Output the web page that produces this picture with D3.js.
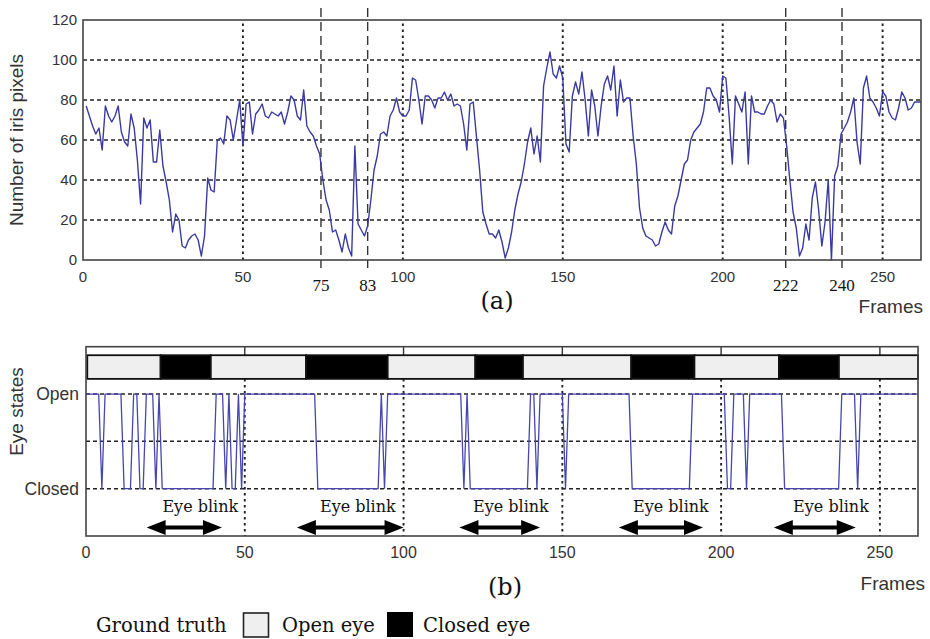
<!DOCTYPE html>
<html><head><meta charset="utf-8">
<script src="https://cdn.jsdelivr.net/npm/d3@7"></script>
<style>html,body{margin:0;padding:0;background:#fff;}svg{display:block;}</style>
</head><body>
<svg id="c" width="930" height="639"></svg>
<script>
// ---------- DATA ----------
// (a) number of iris pixels, frames 1..262
const irisPixels = [
77,72,67,63,66,55,77,72,69,72,
77,64,59,57,73,66,50,28,71,66,
70,49,49,65,47,39,30,14,23,20,
7,6,10,12,13,10,2,12,41,35,
34,60,61,58,72,70,60,70,80,57,
78,79,63,73,75,78,72,71,74,73,
72,74,68,74,82,80,72,70,85,67,
64,62,57,53,40,30,25,14,15,10,
4,13,6,2,57,18,15,12,17,30,
45,52,63,64,62,72,75,81,74,72,
72,75,91,90,80,68,82,82,80,76,
81,81,84,80,83,77,78,77,68,55,
78,79,62,45,24,18,13,13,11,15,
9,1,6,14,25,33,39,48,59,66,
53,62,49,87,96,104,93,91,97,91,
58,54,82,89,83,94,80,62,85,77,
62,77,88,92,85,97,72,90,79,81,
81,62,48,26,16,12,11,10,7,8,
14,19,15,13,27,32,40,48,50,60,
64,66,68,74,86,86,82,80,74,92,
91,72,48,82,78,74,84,48,82,74,
74,73,73,77,80,78,69,73,71,57,
40,24,16,2,6,18,10,31,39,25,
7,19,40,0,42,47,63,66,69,74,
81,59,48,86,92,81,79,76,72,84,
82,74,71,70,76,84,81,75,76,79,
79,79
];
const irisTicksY = [0,20,40,60,80,100,120];
const framesTicks = [0,50,100,150,200,250];
const markerFrames = [74.4, 89, 219.7, 237.3];
const markerLabels = ["75","83","222","240"];

// (b) detected eye state per frame 0..262 (1 = Open, 0 = Closed)
const eyeStateCodes = [
"1111101111","1100011001","1101000000","0000000000","0111010010",
"1111111111","1111111111","1110000000","0000000000","0001011111",
"1111111111","1111111110","1000000000","0000000000","1101111111",
"1011111111","1111111111","1100000000","0000000000","0111111111",
"1100111101","1111111111","0000000000","0000000011","1110111111",
"1111111111","111"
];
const eyeTickValues = [1, 0];
const eyeTickLabels = ["Open","Closed"];
// ground truth segments
const gtFrom  = [0.4, 23.5, 39.3, 69.3, 95, 122.6, 137.6, 171.7, 191.6, 218.2, 237.1];
const gtTo    = [23.5, 39.3, 69.3, 95, 122.6, 137.6, 171.7, 191.6, 218.2, 237.1, 262];
const gtState = ["open","closed","open","closed","open","closed","open","closed","open","closed","open"];
// eye blink annotations
const blinkFrom = [19.1, 66.4, 117.6, 167.8, 216.6];
const blinkTo   = [42.8, 100, 143, 194.3, 242.4];
const blinkTextAt = [36, 85.6, 133.8, 184.2, 234.6];

// ---------- DRAW ----------
const svg = d3.select("#c");
const SANS = "'Liberation Sans', Arial, sans-serif";
const SERIF = "'DejaVu Serif', serif";
const LINE = "#3a3aa2";

// ===== (a) =====
const xA = d3.scaleLinear().domain([0,262]).range([83,921]);
const yA = d3.scaleLinear().domain([0,120]).range([260,20]);
const gA = svg.append("g");

// grid
gA.selectAll(".hg").data(irisTicksY.filter(v=>v>0&&v<120)).enter().append("line")
  .attr("x1",xA(0)).attr("x2",xA(262)).attr("y1",d=>yA(d)).attr("y2",d=>yA(d))
  .attr("stroke","#222").attr("stroke-width",1.5).attr("stroke-dasharray","4,3");
gA.selectAll(".vg").data(framesTicks.filter(v=>v>0)).enter().append("line")
  .attr("x1",d=>xA(d)).attr("x2",d=>xA(d)).attr("y1",yA(0)).attr("y2",yA(120))
  .attr("stroke","#222").attr("stroke-width",1.9).attr("stroke-dasharray","2.5,3.5");

// markers
gA.selectAll(".mk").data(markerFrames).enter().append("line")
  .attr("x1",d=>xA(d)).attr("x2",d=>xA(d)).attr("y1",8).attr("y2",268)
  .attr("stroke","#333").attr("stroke-width",1.4).attr("stroke-dasharray","9,5");
gA.selectAll(".mkl").data(markerFrames).enter().append("text")
  .attr("x",d=>xA(d)).attr("y",291).attr("text-anchor","middle")
  .attr("font-family","'Liberation Serif', 'Times New Roman', serif").attr("font-size",17).attr("fill","#111")
  .text((d,i)=>markerLabels[i]);

// line
const lineA = d3.line().x((d,i)=>xA(i+1)).y(d=>yA(d));
gA.append("path").datum(irisPixels).attr("d",lineA)
  .attr("fill","none").attr("stroke",LINE).attr("stroke-width",1.4).attr("stroke-linejoin","round");

// frame
gA.append("rect").attr("x",xA(0)).attr("y",yA(120)).attr("width",xA(262)-xA(0)).attr("height",yA(0)-yA(120))
  .attr("fill","none").attr("stroke","#444").attr("stroke-width",1.6);

// tick labels
gA.selectAll(".yt").data(irisTicksY).enter().append("text")
  .attr("x",77).attr("y",d=>yA(d)).attr("dy","0.36em").attr("text-anchor","end")
  .attr("font-family",SANS).attr("font-size",15).attr("fill","#333").text(d=>d);
gA.selectAll(".xt").data(framesTicks).enter().append("text")
  .attr("x",d=>xA(d)).attr("y",282).attr("text-anchor","middle")
  .attr("font-family",SANS).attr("font-size",15).attr("fill","#333").text(d=>d);
gA.append("text").attr("transform","translate(23,140) rotate(-90)").attr("text-anchor","middle")
  .attr("font-family",SANS).attr("font-size",19).attr("fill","#333").text("Number of iris pixels");
gA.append("text").attr("x",923).attr("y",313).attr("text-anchor","end")
  .attr("font-family",SANS).attr("font-size",19).attr("fill","#333").text("Frames");
gA.append("text").attr("x",497).attr("y",309).attr("text-anchor","middle")
  .attr("font-family",SERIF).attr("font-size",24).attr("fill","#111").text("(a)");

// ===== (b) =====
const xB = d3.scaleLinear().domain([0,262]).range([86,918]);
const yB = d3.scaleLinear().domain([-0.5,1.5]).range([536,346.7]);
const gB = svg.append("g");
const eyeStates = eyeStateCodes.join("").split("").map(Number);
const barTop = 1.41, barBot = 1.16;

// grid
gB.selectAll(".hg").data([0,0.5,1]).enter().append("line")
  .attr("x1",xB(0)).attr("x2",xB(262)).attr("y1",d=>yB(d)).attr("y2",d=>yB(d))
  .attr("stroke","#222").attr("stroke-width",1.5).attr("stroke-dasharray","4,3");
gB.selectAll(".vg").data(framesTicks.filter(v=>v>0)).enter().append("line")
  .attr("x1",d=>xB(d)).attr("x2",d=>xB(d)).attr("y1",yB(barBot)).attr("y2",yB(-0.5))
  .attr("stroke","#222").attr("stroke-width",1.9).attr("stroke-dasharray","2.5,3.5");
gB.selectAll(".tt").data(framesTicks.filter(v=>v>0)).enter().append("line")
  .attr("x1",d=>xB(d)).attr("x2",d=>xB(d)).attr("y1",yB(1.5)).attr("y2",yB(barTop))
  .attr("stroke","#333").attr("stroke-width",1.4);

// eye state signal
const lineB = d3.line().x((d,i)=>xB(i)).y(d=>yB(d));
gB.append("path").datum(eyeStates).attr("d",lineB)
  .attr("fill","none").attr("stroke","#4646ae").attr("stroke-width",1.3);

// ground truth bar
gB.selectAll(".gt").data(gtFrom).enter().append("rect")
  .attr("x",(d)=>xB(d)).attr("width",(d,i)=>xB(gtTo[i])-xB(d))
  .attr("y",yB(barTop)).attr("height",yB(barBot)-yB(barTop))
  .attr("fill",(d,i)=>gtState[i]==="closed"?"#000":"#efefef")
  .attr("stroke","#111").attr("stroke-width",1.8);

// frame
gB.append("rect").attr("x",xB(0)).attr("y",yB(1.5)).attr("width",xB(262)-xB(0)).attr("height",yB(-0.5)-yB(1.5))
  .attr("fill","none").attr("stroke","#444").attr("stroke-width",1.6);

// blink annotations
const ay = 527.5, head = 19, hh = 7.5;
blinkFrom.forEach((f,i)=>{
  const x1 = xB(f), x2 = xB(blinkTo[i]);
  gB.append("line").attr("x1",x1+head-2).attr("x2",x2-head+2).attr("y1",ay).attr("y2",ay)
    .attr("stroke","#000").attr("stroke-width",4);
  gB.append("path").attr("d",`M${x1},${ay}L${x1+head},${ay-hh}L${x1+head},${ay+hh}Z`).attr("fill","#000");
  gB.append("path").attr("d",`M${x2},${ay}L${x2-head},${ay-hh}L${x2-head},${ay+hh}Z`).attr("fill","#000");
  gB.append("text").attr("x",xB(blinkTextAt[i])).attr("y",511.5).attr("text-anchor","middle")
    .attr("font-family",SERIF).attr("font-size",16).attr("fill","#111").text("Eye blink");
});

// tick labels
gB.selectAll(".yt").data(eyeTickValues).enter().append("text")
  .attr("x",79).attr("y",d=>yB(d)).attr("dy","0.36em").attr("text-anchor","end")
  .attr("font-family",SANS).attr("font-size",17.5).attr("fill","#333").text((d,i)=>eyeTickLabels[i]);
gB.selectAll(".xt").data(framesTicks).enter().append("text")
  .attr("x",d=>xB(d)).attr("y",558).attr("text-anchor","middle")
  .attr("font-family",SANS).attr("font-size",16).attr("fill","#333").text(d=>d);
gB.append("text").attr("transform","translate(23,411.5) rotate(-90)").attr("text-anchor","middle")
  .attr("font-family",SANS).attr("font-size",19).attr("fill","#333").text("Eye states");
gB.append("text").attr("x",925).attr("y",590).attr("text-anchor","end")
  .attr("font-family",SANS).attr("font-size",19).attr("fill","#333").text("Frames");
gB.append("text").attr("x",505).attr("y",595).attr("text-anchor","middle")
  .attr("font-family",SERIF).attr("font-size",24).attr("fill","#111").text("(b)");

// legend
const gL = svg.append("g");
gL.append("text").attr("x",96).attr("y",632).attr("font-family",SERIF).attr("font-size",19.5).attr("fill","#111").text("Ground truth");
gL.append("rect").attr("x",243.5).attr("y",613).attr("width",25).attr("height",24).attr("fill","#efefef").attr("stroke","#222").attr("stroke-width",1.6);
gL.append("text").attr("x",282).attr("y",632).attr("font-family",SERIF).attr("font-size",19.5).attr("fill","#111").text("Open eye");
gL.append("rect").attr("x",387).attr("y",612).attr("width",26).attr("height",25).attr("fill","#000");
gL.append("text").attr("x",423).attr("y",632).attr("font-family",SERIF).attr("font-size",19.5).attr("fill","#111").text("Closed eye");
</script>
</body></html>
